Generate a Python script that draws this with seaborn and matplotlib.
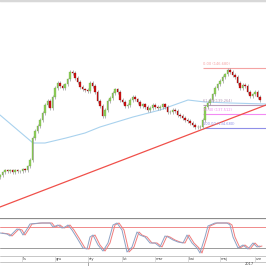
import numpy as np
import pandas as pd
import matplotlib
matplotlib.use("Agg")
import matplotlib.pyplot as plt
import seaborn as sns

# ---------------- data ----------------
CLOSE = [125.28, 125.88, 126.28, 126.08, 126.28, 125.88, 126.28, 126.08, 126.08, 126.48,
         126.28, 127.08, 128.28, 132.68, 134.08, 135.08, 136.28, 137.68, 139.28, 140.08,
         138.68, 140.88, 142.68, 143.68, 143.08, 142.68, 143.48, 144.48, 145.88, 145.68,
         144.68, 143.88, 142.88, 142.48, 142.28, 142.08, 143.68, 143.08, 141.88, 140.08,
         139.08, 137.08, 138.28, 140.08, 140.68, 141.68, 142.48, 141.88, 140.28, 139.88,
         139.08, 139.28, 140.28, 140.88, 140.48, 139.88, 139.08, 139.48, 138.88, 138.28,
         138.68, 139.28, 138.88, 138.68, 138.88, 139.48, 138.88, 137.88, 137.88, 138.28,
         138.08, 137.28, 137.08, 136.68, 136.28, 136.08, 135.68, 135.28, 134.88, 134.88,
         134.88, 136.28, 138.88, 139.68, 140.28, 141.48, 142.68, 143.48, 144.08, 144.88,
         145.48, 146.28, 145.88, 145.28, 144.88, 143.68, 142.68, 143.28, 143.08, 141.88,
         141.08, 141.48, 141.88, 140.88, 140.28]
FIRST_OPEN = 124.88

MA_IDX = [0, 8, 13.2, 18, 26.4, 34, 40, 53.2, 64, 75.2, 82, 92, 106.4]
MA_VAL = [137.28, 133.88, 131.68, 131.68, 132.68, 133.68, 134.88, 136.88, 138.28,
          140.28, 139.88, 139.68, 139.48]

TREND_IDX = [0, 106.4]
TREND_VAL = [118.88, 139.28]

FIB_HIGH = 146.68
FIB_LOW = 134.68
FIB_START = 81
FIB_LEVELS = [0.0, 61.8, 76.4, 100.0]

STOCH_IDX = [0, 2.8, 4, 5.2, 6.8, 8, 9.2, 10.8, 12, 16, 20, 21.2, 23.2, 24.8, 26, 27.2,
             28.8, 30.8, 33.2, 34.8, 36, 37.2, 39.2, 41.2, 43.2, 45.2, 46.8, 48.8, 50.8,
             52.8, 54.8, 56, 58, 60, 62, 64, 66, 67.2, 69.2, 71.2, 73.2, 74.8, 76.8, 78.8,
             80, 82, 83.2, 86, 90.8, 92, 93.2, 95.2, 97.2, 99.2, 101.2, 102.8, 104]
STOCH_K = [62.9, 60, 54.3, 62.9, 74.3, 71.4, 57.1, 74.3, 88.6, 91.4, 91.4, 80, 85.7, 77.1,
           80, 85.7, 71.4, 48.6, 20, 17.1, 51.4, 57.1, 28.6, 11.4, 34.3, 85.7, 91.4, 71.4,
           8.6, 22.9, 65.7, 57.1, 51.4, 34.3, 34.3, 22.9, 54.3, 51.4, 42.9, 37.1, 34.3, 57.1,
           34.3, 20, 5.7, 51.4, 82.9, 91.4, 91.4, 85.7, 51.4, 20, 28.6, 17.1, 34.3, 22.9, 25.7]
STOCH_UPPER = 80
STOCH_LOWER = 20

MONTHS = ["lis", "gru", "sty", "lut", "mar", "kwi", "maj", "cze"]
MONTH_TICKS = [8.8, 22, 35.2, 48.8, 62, 75.2, 88, 102]
YEAR_LABEL = "2017"
YEAR_START = 35.2

# ---------------- figure ----------------
sns.set_style("white")
W = H = 266
fig = plt.figure(figsize=(2.66, 2.66), dpi=100)
fig.patch.set_facecolor("white")

XMAX = 106.4
ax = fig.add_axes([0, 50 / H, 1, 216 / H])
ax_st = fig.add_axes([0, 11 / H, 1, 37 / H])
ax_d = fig.add_axes([0, 0, 1, 11 / H])
for a in (ax, ax_st, ax_d):
    a.set_xlim(0, XMAX)
    for s in a.spines.values():
        s.set_visible(False)
    a.set_xticks([])
    a.set_yticks([])
    a.set_facecolor("white")

ax.set_ylim(117.08, 160.28)

df = pd.DataFrame({"close": CLOSE})
df["idx"] = np.arange(len(df))
df["open"] = [FIRST_OPEN] + CLOSE[:-1]
WICK = 0.3
df["high"] = df[["open", "close"]].max(axis=1) + WICK
df["low"] = df[["open", "close"]].min(axis=1) - WICK

# moving average
sns.lineplot(x=MA_IDX, y=MA_VAL, ax=ax, color="#a9d2ee", linewidth=0.8, zorder=2)
# trend line
sns.lineplot(x=TREND_IDX, y=TREND_VAL, ax=ax, color="#f0504a", linewidth=0.9, zorder=2)

# candles
ax.vlines(df["idx"], df["low"], df["high"], color="#9a9a9a", linewidth=0.5, zorder=3)
up = df[df["close"] >= df["open"]]
dn = df[df["close"] < df["open"]]
ax.bar(up["idx"], up["close"] - up["open"], bottom=up["open"], width=0.6,
       color="#8fce5a", edgecolor="#6aa83a", linewidth=0.2, zorder=4)
ax.bar(dn["idx"], dn["open"] - dn["close"], bottom=dn["close"], width=0.6,
       color="#d01010", edgecolor="#8a0a0a", linewidth=0.2, zorder=4)

# fibonacci levels
fib_colors = ["#f4a3a3", "#b79bb8", "#f38af3", "#8f8fe8"]
for lvl, c in zip(FIB_LEVELS, fib_colors):
    price = FIB_HIGH - (FIB_HIGH - FIB_LOW) * lvl / 100
    ax.hlines(price, FIB_START, XMAX, color=c, linewidth=0.8, zorder=1)
    ax.text(FIB_START + 0.3, price + 0.35, f"{lvl:.2f} ({price:.3f})", color=c,
            fontsize=2.6, ha="left", va="bottom", zorder=5)

# top border band
ax.axhline(160.28, color="#d8d8d8", linewidth=2.5)

# ---------------- stochastic ----------------
ax_st.set_ylim(0, 37 / 0.35)
ax_st.axhline(STOCH_UPPER, color="#f08a8a", linewidth=0.7)
ax_st.axhline(STOCH_LOWER, color="#9a9a9a", linewidth=0.7)
LAG = 0.8
sns.lineplot(x=np.array(STOCH_IDX) + LAG, y=STOCH_K, ax=ax_st, color="#f07c7c",
             linewidth=0.7)
sns.lineplot(x=STOCH_IDX, y=STOCH_K, ax=ax_st, color="#8ea2c4", linewidth=0.7)
ax_st.axhline(37 / 0.35, color="#8c8c8c", linewidth=1.6)

# ---------------- date axis ----------------
ax_d.set_ylim(0, 11)
ax_d.axhline(10.5, color="#bdbdbd", linewidth=0.6)
ax_d.axhline(4, color="#bdbdbd", linewidth=0.6)
ax_d.axhline(0.3, color="#bdbdbd", linewidth=0.6)
for m, t in zip(MONTHS, MONTH_TICKS):
    ax_d.vlines(t, 4, 10.5, color="#cfcfcf", linewidth=0.5)
    ax_d.text(t + 0.4, 7.2, m, fontsize=2.6, color="#444444", ha="left", va="center")
ax_d.vlines(YEAR_START, 0, 4, color="#999999", linewidth=0.6)
ax_d.text(98, 2.0, YEAR_LABEL, fontsize=2.6, color="#444444", ha="left", va="center")

fig.savefig("out.png", dpi=100, facecolor="white")
